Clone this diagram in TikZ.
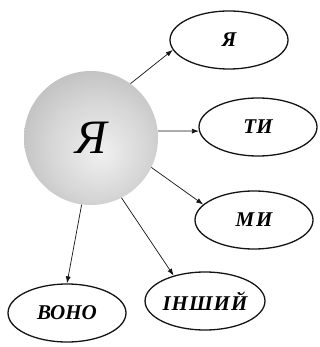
\documentclass[tikz,border=0pt]{standalone}
\usepackage{fontspec}
\setmainfont{Liberation Serif}
\usetikzlibrary{arrows.meta,shapes.geometric}
\definecolor{inkblack}{RGB}{20,20,20}
\pgfdeclareradialshading{selfshade}{\pgfpoint{4bp}{-6bp}}{%
  color(0bp)=(white!94!black); color(18bp)=(white!84!black);
  color(40bp)=(white!68!black); color(56bp)=(white!60!black)}
\tikzset{
  self/.style={circle,minimum size=134pt,inner sep=0pt,
    shading=selfshade,font=\fontsize{48}{52}\selectfont\itshape},
  role/.style={ellipse,draw=inkblack,line width=1.3pt,fill=white,
    minimum width=118pt,minimum height=58pt,inner sep=0pt,
    font=\fontsize{21}{24}\selectfont\bfseries\itshape},
  link/.style={-{Latex[length=7pt,width=5pt]},line width=0.7pt,draw=inkblack}
}
\begin{document}
\begin{tikzpicture}[x=1pt,y=-1pt]
  \useasboundingbox (0,0) rectangle (320,347);
  \node[self] (me) at (91,138) {Я};
  \node[role] (ya) at (229,40) {Я};
  \node[role] (ty) at (258,127) {ТИ};
  \node[role] (my) at (254,220) {М\kern2ptИ};
  \node[role] (other) at (205,301) {І\kern1ptН\kern1ptШ\kern1ptИ\kern1ptЙ};
  \node[role] (vono) at (67,313) {ВОНО};
  \draw[link] (me.54) -- (ya.190);
  \draw[link] (me.6) -- (ty.184);
  \draw[link] (me.-26) -- (my.163);
  \draw[link] (me.-63) -- (other.141);
  \draw[link] (me.-98) -- (vono.north);
\end{tikzpicture}
\end{document}
